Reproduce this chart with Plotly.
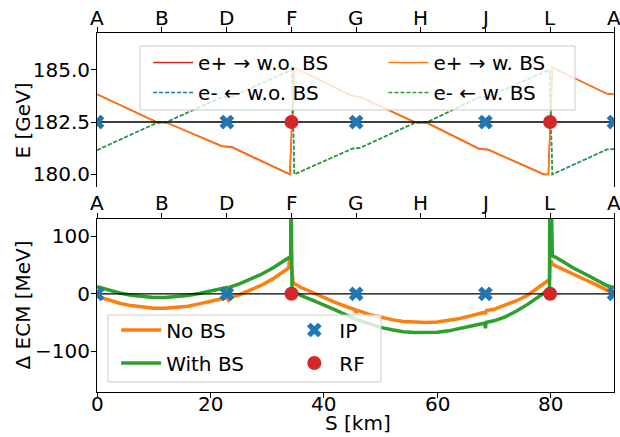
import plotly.graph_objects as go

# ---------------- data ----------------
RING_LENGTH = 91.17
LETTER_POS = [0.0, 11.4, 22.9, 34.3, 45.7, 57.1, 68.5, 79.9, 91.17]
LETTERS = ["A", "B", "D", "F", "G", "H", "J", "L", "A"]
KM_TICKS = [0, 20, 40, 60, 80]

IP_S = [0.0, 22.9, 45.7, 68.5, 91.17]
RF_S = [34.3, 79.9]

E_NOMINAL = 182.5
E_TICKS = [180.0, 182.5, 185.0]
DECM_TICKS = [-100, 0, 100]

# top panel: beam energy along the ring
S_EP = [0.0, 10.5, 12.3, 22.0, 23.8, 33.7, 34.0, 34.8, 45.0, 46.4, 56.0, 58.3,
        67.4, 69.0, 78.8, 79.6, 80.3, 89.9, 91.17]
E_EP_NOBS = [183.83, 182.50, 182.47, 181.35, 181.30, 180.00, 180.00, 185.10, 183.75,
             183.70, 182.50, 182.45, 181.22, 181.18, 180.00, 180.00, 185.10, 183.86, 183.83]
E_EP_BS = [183.82, 182.49, 182.46, 181.33, 181.28, 179.98, 179.98, 185.10, 183.74,
           183.69, 182.48, 182.43, 181.20, 181.16, 179.98, 179.98, 185.10, 183.85, 183.82]

S_EM = [0.0, 10.5, 12.3, 22.0, 23.8, 34.4, 34.8, 45.0, 46.4, 56.0, 58.3, 67.4,
        69.0, 79.8, 80.3, 89.9, 91.17]
E_EM_NOBS = [181.15, 182.45, 182.50, 183.68, 183.72, 185.00, 180.00, 181.22, 181.26,
             182.45, 182.50, 183.68, 183.72, 185.00, 180.00, 181.18, 181.20]
E_EM_BS = [181.16, 182.46, 182.51, 183.69, 183.73, 185.00, 179.99, 181.23, 181.27,
           182.46, 182.51, 183.69, 183.73, 185.00, 179.99, 181.19, 181.21]

# bottom panel: centre-of-mass energy offset
S_NOBS = [0, 2, 4, 6, 8, 10, 12, 14, 16, 18, 20, 22, 22.9, 23.2, 23.5, 25, 27, 29, 31, 33,
          33.8, 34.0, 34.1, 34.3, 34.6, 36, 38, 40, 42, 44, 45.5, 45.7, 46.0, 48, 50, 52,
          54, 56, 58, 60, 62, 64, 66, 68.3, 68.5, 68.7, 70, 72, 74, 76, 78, 79.5, 79.8,
          79.9, 80.1, 80.4, 82, 84, 86, 88, 90, 91.17]
DECM_NOBS = [-4.5, -11, -16.5, -20.5, -23.5, -25, -25, -24, -21.5, -17.5, -13, -8.5, -6.5,
             -11, -5.5, -2, 6, 15, 26, 39, 45, 66, 47, 46, 19, 11, 2, -7, -15, -22.5,
             -27.5, -33, -29, -36, -41, -45, -48, -49.5, -50, -49, -46.5, -43, -38, -32,
             -35, -29, -27, -20, -12, -2, 12, 22, 25, 57, 56, 51, 44, 34, 25, 16, 5, 0]

S_BS = [0, 2, 4, 6, 8, 10, 12, 14, 16, 18, 20, 22, 22.9, 23.2, 23.5, 25, 27, 29, 31, 33,
        34.0, 34.15, 34.2, 34.25, 34.3, 34.35, 34.4, 35, 36, 38, 40, 42, 44, 45.7, 46, 48,
        50, 52, 54, 56, 58, 60, 62, 64, 66, 68.4, 68.5, 68.6, 70, 72, 74, 76, 78, 79.5,
        79.8, 79.85, 79.9, 79.95, 80.0, 80.05, 80.3, 80.8, 82, 84, 86, 88, 90, 91.17]
DECM_BS = [12.5, 6.5, 1.5, -2.5, -5, -6.5, -6.5, -5.5, -3, 0.5, 4.5, 9, 11, 7, 12, 17, 25,
           34, 45, 58, 65, 65, 200, 66, 200, 66, 4, 2, -3, -11, -19, -28, -37, -44, -46,
           -52, -58.5, -62.5, -66, -67.5, -68, -67, -64.5, -61, -56, -51, -60, -50, -47,
           -40, -30, -18, -5, 5, 8, 200, 70, 200, 70, 200, 66, 64, 57, 45, 35, 24, 14, 11]

# ---------------- style ----------------
RED = "#d62728"
ORANGE = "#ff7f0e"
BLUE = "#1f77b4"
GREEN = "#2ca02c"
FONT = "DejaVu Sans"
FS = 20

fig = go.Figure()

# top panel curves (x3 / y2)
fig.add_trace(go.Scatter(x=S_EP, y=E_EP_NOBS, mode="lines", name="e+ → w.o. BS",
                         line=dict(color=RED, width=1.5), xaxis="x3", yaxis="y2",
                         legend="legend", legendgroup="a1"))
fig.add_trace(go.Scatter(x=S_EM, y=E_EM_NOBS, mode="lines", name="e- ← w.o. BS",
                         line=dict(color=BLUE, width=1.5, dash="4px,2px"), xaxis="x3", yaxis="y2",
                         legend="legend", legendgroup="a2"))
fig.add_trace(go.Scatter(x=S_EP, y=E_EP_BS, mode="lines", name="e+ → w. BS",
                         line=dict(color=ORANGE, width=1.5), xaxis="x3", yaxis="y2",
                         legend="legend2", legendgroup="a3"))
fig.add_trace(go.Scatter(x=S_EM, y=E_EM_BS, mode="lines", name="e- ← w. BS",
                         line=dict(color=GREEN, width=1.5, dash="4px,2px"), xaxis="x3", yaxis="y2",
                         legend="legend2", legendgroup="a4"))
fig.add_trace(go.Scatter(x=[0, RING_LENGTH], y=[E_NOMINAL, E_NOMINAL], mode="lines",
                         line=dict(color="black", width=1.3), xaxis="x3", yaxis="y2",
                         showlegend=False, hoverinfo="skip"))
# top panel markers on the lettered axis (x4 / y2)
fig.add_trace(go.Scatter(x=IP_S, y=[E_NOMINAL] * len(IP_S), mode="markers",
                         marker=dict(symbol="x", size=13, color=BLUE), xaxis="x4", yaxis="y2",
                         showlegend=False))
fig.add_trace(go.Scatter(x=RF_S, y=[E_NOMINAL] * len(RF_S), mode="markers",
                         marker=dict(symbol="circle", size=14, color=RED), xaxis="x4", yaxis="y2",
                         showlegend=False))

# bottom panel curves (x / y)
fig.add_trace(go.Scatter(x=S_NOBS, y=DECM_NOBS, mode="lines", name="No BS",
                         line=dict(color=ORANGE, width=3.5), xaxis="x", yaxis="y",
                         legend="legend3", legendgroup="b1"))
fig.add_trace(go.Scatter(x=S_BS, y=DECM_BS, mode="lines", name="With BS",
                         line=dict(color=GREEN, width=3.5), xaxis="x", yaxis="y",
                         legend="legend3", legendgroup="b2"))
fig.add_trace(go.Scatter(x=[0, RING_LENGTH], y=[0, 0], mode="lines",
                         line=dict(color="black", width=1.3), xaxis="x", yaxis="y",
                         showlegend=False, hoverinfo="skip"))
# bottom panel markers on lettered axis (x2 / y)
fig.add_trace(go.Scatter(x=IP_S, y=[0] * len(IP_S), mode="markers", name="IP",
                         marker=dict(symbol="x", size=13, color=BLUE), xaxis="x2", yaxis="y",
                         legend="legend4", legendgroup="b3"))
fig.add_trace(go.Scatter(x=RF_S, y=[0] * len(RF_S), mode="markers", name="RF",
                         marker=dict(symbol="circle", size=14, color=RED), xaxis="x2", yaxis="y",
                         legend="legend4", legendgroup="b4"))

axis_common = dict(showline=True, linecolor="black", linewidth=1, ticks="outside",
                   ticklen=5, tickwidth=1, tickcolor="black", showgrid=False, zeroline=False,
                   automargin=False, tickfont=dict(size=FS, color="black", family=FONT))

TOP_DOM = [0.571, 1.0]
BOT_DOM = [0.0, 0.483]

legend_common = dict(xanchor="left", yanchor="top", orientation="v",
                     bgcolor="rgba(0,0,0,0)", borderwidth=0, itemwidth=40,
                     font=dict(size=FS, color="black", family=FONT))

text_font = dict(size=FS, color="black", family=FONT)

# tick labels of the x axes, placed through the axes' own scales
tick_annotations = []
for pos, lab in zip(LETTER_POS, LETTERS):
    tick_annotations.append(dict(text=lab, xref="x4", yref="paper", x=pos, y=1.0418,
                                 xanchor="center", yanchor="middle", showarrow=False,
                                 font=text_font))
    tick_annotations.append(dict(text=lab, xref="x2", yref="paper", x=pos, y=0.5265,
                                 xanchor="center", yanchor="middle", showarrow=False,
                                 font=text_font))
for km in KM_TICKS:
    tick_annotations.append(dict(text=str(km), xref="x", yref="paper", x=km, y=-0.0326,
                                 xanchor="center", yanchor="middle", showarrow=False,
                                 font=text_font))

title_annotations = [
    dict(text="E [GeV]", xref="paper", yref="paper", x=-0.1422, y=0.7577,
         xanchor="center", yanchor="middle", textangle=-90, showarrow=False, font=text_font),
    dict(text="Δ ECM [MeV]", xref="paper", yref="paper", x=-0.1422, y=0.2423,
         xanchor="center", yanchor="middle", textangle=-90, showarrow=False, font=text_font),
    dict(text="S [km]", xref="paper", yref="paper", x=0.5039, y=-0.087,
         xanchor="center", yanchor="middle", showarrow=False, font=text_font),
]

fig.update_layout(
    width=620, height=437,
    margin=dict(l=97, r=6, t=33, b=45, autoexpand=False),
    paper_bgcolor="white", plot_bgcolor="white",
    font=dict(family=FONT, size=FS, color="black"),
    xaxis=dict(axis_common, range=[0, RING_LENGTH], domain=[0, 1], anchor="y",
               tickvals=KM_TICKS, showticklabels=False),
    xaxis2=dict(axis_common, range=[0, RING_LENGTH], overlaying="x", anchor="y", side="top",
                tickvals=LETTER_POS, showticklabels=False),
    yaxis=dict(axis_common, range=[-171, 131], domain=BOT_DOM, anchor="x", mirror=True,
               tickvals=DECM_TICKS, ticklabelstandoff=-3),
    xaxis3=dict(range=[0, RING_LENGTH], anchor="y2", showline=False, showticklabels=False,
                ticks="", showgrid=False, zeroline=False, automargin=False),
    xaxis4=dict(axis_common, range=[0, RING_LENGTH], overlaying="x3", anchor="y2", side="top",
                tickvals=LETTER_POS, showticklabels=False),
    yaxis2=dict(axis_common, range=[179.39, 186.76], domain=TOP_DOM, anchor="x3", mirror=True,
                tickvals=E_TICKS, tickformat=".1f", ticklabelstandoff=-3),
    legend=dict(legend_common, x=0.0988, y=0.972, tracegroupgap=1),
    legend2=dict(legend_common, x=0.554, y=0.972, tracegroupgap=1),
    legend3=dict(legend_common, x=0.037, y=0.227, tracegroupgap=4),
    legend4=dict(legend_common, x=0.372, y=0.227, tracegroupgap=4),
    annotations=tick_annotations + title_annotations,
    shapes=[
        dict(type="rect", xref="paper", yref="paper", x0=0.0832, x1=0.9246,
             y0=0.7855, y1=0.9638, line=dict(color="#cccccc", width=1),
             fillcolor="rgba(255,255,255,0.8)", layer="above"),
        dict(type="rect", xref="paper", yref="paper", x0=0.0213, x1=0.5493,
             y0=0.0279, y1=0.2145, line=dict(color="#cccccc", width=1),
             fillcolor="rgba(255,255,255,0.8)", layer="above"),
    ],
    showlegend=True,
)

# remove the browser's default 8 px page margin so the figure fills the window exactly
fig.write_html("out.html", config={"displayModeBar": False},
               post_script="document.body.style.margin='0';")
